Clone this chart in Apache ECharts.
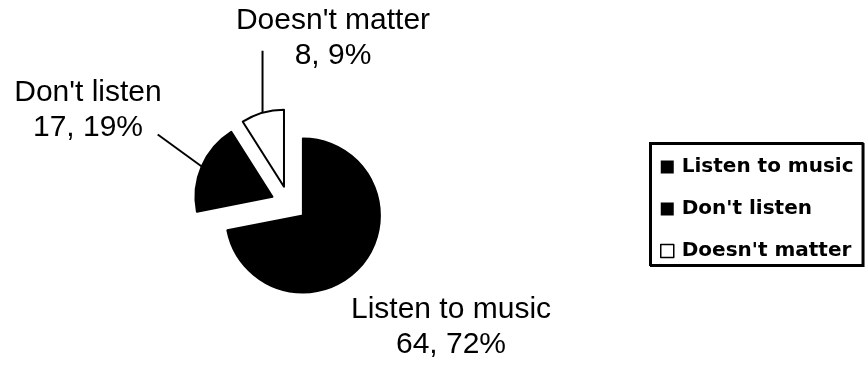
<!DOCTYPE html>
<html><head><meta charset="utf-8">
<script src="https://cdn.jsdelivr.net/npm/echarts@6/dist/echarts.min.js"></script>
<style>html,body{margin:0;padding:0;background:#fff}#c{width:866px;height:367px}</style>
</head><body><div id="c"></div>
<script>
// ---- data ----
const categories = ['Listen to music', "Don't listen", "Doesn't matter"];
const counts = [64, 17, 8];
const percents = [72, 19, 9];

// ---- styling / layout (not data) ----
const sliceFill = ['#000000', '#000000', '#ffffff'];
const baseCenter = [289, 204];
const pieRadius = 77;
const explode = 18;
const labelAnchors = [[451, 327], [88, 110], [333, 38]];
const showLine = [false, true, true];
const lineDelta = [[0, 0], [-44, -32], [0, -62]];

const chart = echarts.init(document.getElementById('c'), null, {renderer: 'canvas'});

// mid-angle of each slice (clockwise from 12 o'clock), from the values
const total = counts.reduce((a, b) => a + b, 0);
let acc = 0;
const dirs = counts.map(v => {
  const m = (acc + v / 2) / total * 2 * Math.PI;
  acc += v;
  return [Math.sin(m), -Math.cos(m)];
});

const series = categories.map((_, i) => {
  const c = [baseCenter[0] + explode * dirs[i][0], baseCenter[1] + explode * dirs[i][1]];
  return {
    type: 'pie',
    center: c,
    radius: pieRadius,
    startAngle: 90,
    clockwise: true,
    silent: true,
    selectedMode: false,
    avoidLabelOverlap: false,
    emphasis: {disabled: true},
    data: categories.map((name, j) => ({
      name: name,
      value: counts[j],
      itemStyle: j === i
        ? {color: sliceFill[j], borderColor: '#000', borderWidth: 2}
        : {color: 'rgba(0,0,0,0)', borderColor: 'rgba(0,0,0,0)', borderWidth: 0},
      label: {show: j === i},
      labelLine: {show: j === i && showLine[j]}
    })),
    label: {
      position: 'outside',
      fontFamily: 'Liberation Sans',
      fontSize: 30,
      lineHeight: 35,
      color: '#000',
      align: 'center',
      formatter: p => p.name + '\n' + counts[p.dataIndex] + ', ' + percents[p.dataIndex] + '%'
    },
    labelLine: {lineStyle: {color: '#000', width: 2}, length: 20, length2: 0, smooth: false},
    labelLayout: p => {
      const k = p.dataIndex;
      const p0 = [c[0] + pieRadius * dirs[k][0], c[1] + pieRadius * dirs[k][1]];
      const out = {
        x: labelAnchors[k][0],
        y: labelAnchors[k][1],
        align: 'center',
        verticalAlign: 'middle'
      };
      if (showLine[k]) {
        out.labelLinePoints = [p0, [p0[0] + lineDelta[k][0], p0[1] + lineDelta[k][1]]];
      }
      return out;
    }
  };
});

chart.setOption({
  animation: false,
  backgroundColor: '#fff',
  legend: {
    orient: 'vertical',
    left: 650, top: 143,
    padding: [14, 9, 4, 10],
    itemGap: 22, itemWidth: 13, itemHeight: 13,
    borderColor: '#000', borderWidth: 2,
    shadowColor: '#000', shadowOffsetX: 1, shadowOffsetY: 1, shadowBlur: 0,
    backgroundColor: '#fff',
    selectedMode: false,
    textStyle: {fontFamily: 'DejaVu Sans', fontWeight: 'bold', fontSize: 20, color: '#000', padding: [0, 0, 0, 3]},
    data: categories.map((name, i) => ({
      name: name,
      icon: 'rect',
      itemStyle: {color: sliceFill[i], borderColor: '#000', borderWidth: i === 2 ? 1.5 : 0}
    }))
  },
  series: series
});
</script></body></html>
